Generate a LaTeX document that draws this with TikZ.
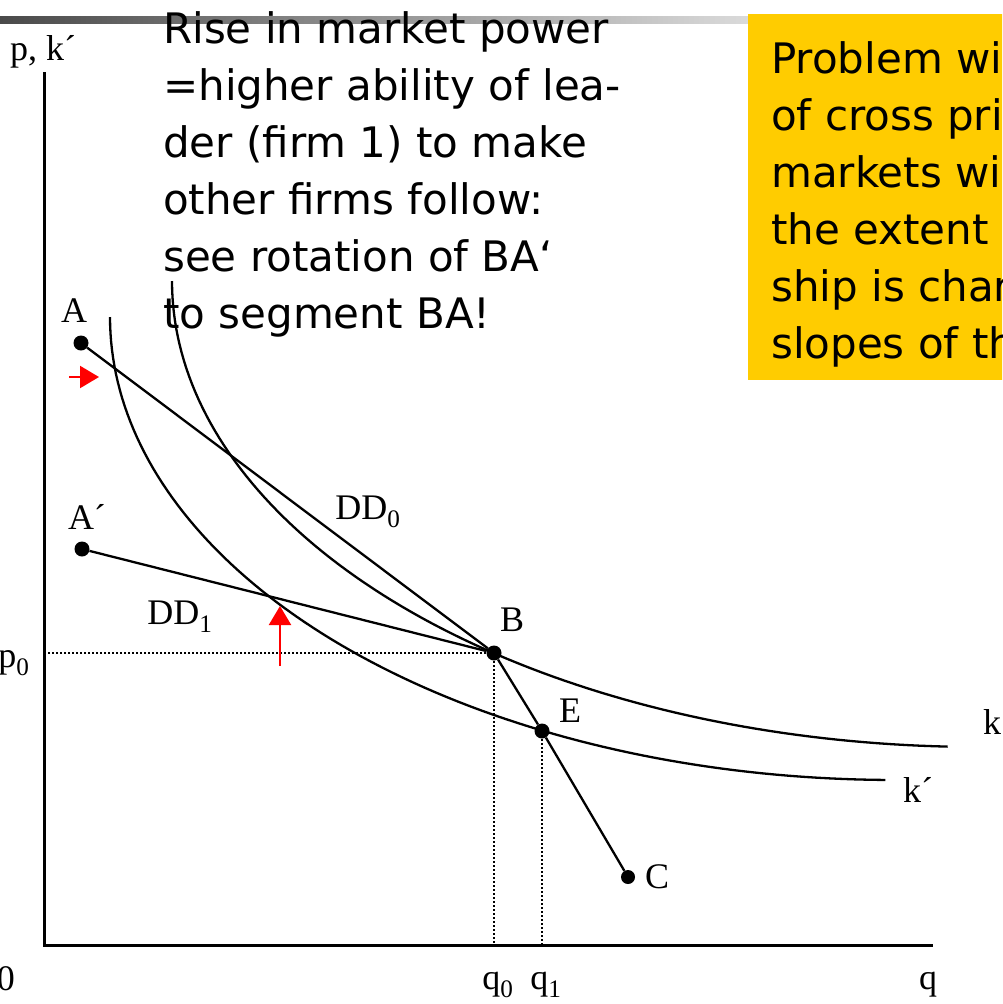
\documentclass[tikz,border=0pt]{standalone}
\usepackage{fontspec}
\setmainfont{Liberation Serif}
\newfontfamily\slidefont{DejaVu Sans}
\usetikzlibrary{arrows.meta}
\definecolor{boxyellow}{HTML}{FFCC00}
\definecolor{bardark}{HTML}{4A4A4A}
\definecolor{barlight}{HTML}{DADADA}
\definecolor{markred}{HTML}{FF0000}

\begin{document}
\begin{tikzpicture}[
    x=1pt, y=-1pt,
    lbl/.style={font=\fontsize{36}{36}\selectfont, inner sep=0pt},
    slidetext/.style={font=\slidefont\fontsize{42}{57}\selectfont, align=left,
                      inner sep=0pt, anchor=base west},
    dot/.style={circle, fill=black, inner sep=0pt, minimum size=15pt},
    axisline/.style={draw=black, line width=3pt},
    isoline/.style={draw=black, line width=2.3pt},
    demand/.style={draw=black, line width=2.3pt},
    guide/.style={draw=black, line width=2pt, dash pattern=on 2pt off 2pt},
    pushline/.style={draw=markred, line width=2.2pt, -{Triangle[length=19pt,width=22pt]}}
  ]
  \useasboundingbox (0,0) rectangle (1002,1004);
  \clip (0,0) rectangle (1002,1004);

  % --- slide decoration ---
  \shade[left color=bardark, right color=barlight] (0,16) rectangle (748,23);
  \fill[boxyellow] (748,14) rectangle (1010,380);

  % base anchor sits on the last line
  \node[slidetext] (note) at (163,328) {Rise in market power\\=higher ability of lea-\\der (firm 1) to make\\other firms follow:\\see rotation of BA‘\\to segment BA!};
  \node[slidetext] (problem) at (771,358) {Problem wi\\of cross pri\\markets wi\\the extent\\ship is char\\slopes of th};

  % --- axes ---
  \coordinate (O) at (44,945);
  \coordinate (ytop) at (44,72);
  \coordinate (xend) at (933,945);
  \draw[axisline] (ytop) -- (O) -- (xend);

  % --- iso-profit curves k and k' ---
  \draw[isoline] plot[domain=92.3:180, samples=90] ({980+808*cos(\x)},{281+466*sin(\x)});
  \draw[isoline] plot[domain=90.7:180, samples=90] ({895+785*cos(\x)},{317+463*sin(\x)});

  % --- points ---
  \node[dot] (A) at (81,343) {};
  \node[dot] (A2) at (82,549) {};
  \node[dot] (B) at (494,653) {};
  \node[dot] (E) at (542,731) {};
  \node[dot, minimum size=14pt] (C) at (628,877) {};

  % demand segments
  \draw[demand] (A) -- (B) -- (E) -- (C);
  \draw[demand] (A2) -- (B);

  % dotted guides to the axes
  \draw[guide] (B.center) -- (B -| O);
  \draw[guide] (B.center) -- (B |- O);
  \draw[guide] (E.center) -- (E |- O);

  % --- red markers ---
  \coordinate (hTail) at (69,377);
  \coordinate (hTip) at (99,377);
  \draw[pushline] (hTail) -- (hTip);
  \coordinate (vTail) at (280,666);
  \coordinate (vTip) at (280,606);
  \draw[pushline] (vTail) -- (vTip);

  % --- labels ---
  \node[lbl] (lpk) at (43,52) {p, k´};
  \node[lbl] (lzero) at (6,979) {0};
  \node[lbl] (lq) at (928,985) {q};
  \node[lbl] (lq0) at (498,985) {q\textsubscript{0}};
  \node[lbl] (lq1) at (546,985) {q\textsubscript{1}};
  \node[lbl] (lp0) at (14,663) {p\textsubscript{0}};
  \node[lbl] (lA) at (74,311) {A};
  \node[lbl] (lA2) at (87,517) {A´};
  \node[lbl] (lB) at (512,620) {B};
  \node[lbl] (lE) at (570,711) {E};
  \node[lbl] (lC) at (657,877) {C};
  \node[lbl] (lk) at (992,722) {k};
  \node[lbl] (lk2) at (918,790) {k´};
  \node[lbl] (lDD0) at (368,512) {DD\textsubscript{0}};
  \node[lbl] (lDD1) at (180,617) {DD\textsubscript{1}};
\end{tikzpicture}
\end{document}
